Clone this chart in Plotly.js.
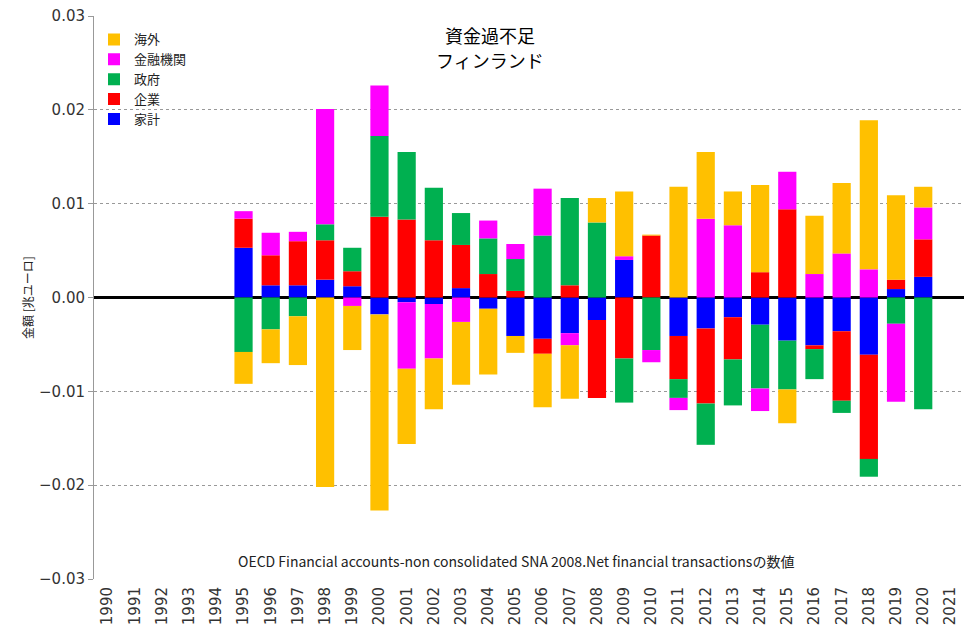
<!DOCTYPE html>
<html>
<head>
<meta charset="utf-8">
<script src="https://cdn.plot.ly/plotly-3.0.1.min.js"></script>
<style>html,body{margin:0;padding:0;background:#fff;}#chart{width:979px;height:639px;}</style>
</head>
<body>
<div id="chart"></div>
<script>
const years = ["1990","1991","1992","1993","1994","1995","1996","1997","1998","1999","2000","2001","2002","2003","2004","2005","2006","2007","2008","2009","2010","2011","2012","2013","2014","2015","2016","2017","2018","2019","2020","2021"];
// values 1990..2021 (null = no data)
const household = [null,null,null,null,null,0.0053,0.0013,0.0013,0.0019,0.0012,-0.0018,-0.0005,-0.0007,0.0010,-0.0012,-0.0041,-0.0044,-0.0038,-0.0024,0.0040,0,-0.0041,-0.0033,-0.0021,-0.0029,-0.0046,-0.0051,-0.0036,-0.0061,0.0009,0.0022,null];
const corporate = [null,null,null,null,null,0.0031,0.0032,0.0047,0.0042,0.0016,0.0086,0.0083,0.0061,0.0046,0.0025,0.0007,-0.0016,0.0013,-0.0083,-0.0065,0.0066,-0.0046,-0.0080,-0.0045,0.0027,0.0094,-0.0004,-0.0074,-0.0111,0.0010,0.0040,null];
const government = [null,null,null,null,null,-0.0058,-0.0034,-0.0020,0.0017,0.0025,0.0086,0.0072,0.0056,0.0034,0.0038,0.0034,0.0066,0.0093,0.0080,-0.0047,-0.0056,-0.0020,-0.0044,-0.0049,-0.0068,-0.0052,-0.0032,-0.0013,-0.0019,-0.0028,-0.0119,null];
const financial = [null,null,null,null,null,0.0008,0.0024,0.0010,0.0123,-0.0009,0.0054,-0.0071,-0.0058,-0.0026,0.0019,0.0016,0.0050,-0.0013,0,0.0004,-0.0013,-0.0013,0.0084,0.0077,-0.0024,0.0040,0.0025,0.0047,0.0030,-0.0083,0.0034,null];
const overseas = [null,null,null,null,null,-0.0034,-0.0036,-0.0052,-0.0202,-0.0047,-0.0209,-0.0080,-0.0054,-0.0067,-0.0070,-0.0018,-0.0057,-0.0057,0.0026,0.0069,0.0001,0.0118,0.0071,0.0036,0.0093,-0.0036,0.0062,0.0075,0.0159,0.0090,0.0022,null];

const seriesNames = ["家計","企業","政府","金融機関","海外"];
const seriesData = [household, corporate, government, financial, overseas];
const seriesColors = ["#0000FF","#FF0000","#00B050","#FF00FF","#FFC000"];
const titleLines = ["資金過不足","フィンランド"];
const sourceNote = "OECD Financial accounts-non consolidated SNA 2008.Net financial transactionsの数値";

const traces = seriesNames.map((n,i)=>({
  type:"bar", name:n, x:years, y:seriesData[i],
  marker:{color:seriesColors[i], line:{width:0}},
  hoverinfo:"x+y+name"
}));

const font = "Noto Sans CJK JP, Noto Sans, sans-serif";
const numFont = "DejaVu Sans, sans-serif";
const pTop = 16, pH = 563;
const layout = {
  width:979, height:639,
  margin:{l:94, r:15, t:pTop, b:639-pTop-pH},
  paper_bgcolor:"#fff", plot_bgcolor:"#fff",
  barmode:"relative", bargap:0.33,
  font:{family:font, color:"#222", size:12},
  xaxis:{type:"category", tickangle:-90, showgrid:false, showline:false, ticks:"",
         range:[-0.5,31.5], ticklabelstandoff:4,
         tickfont:{family:numFont, size:15, color:"#333"}, zeroline:false, fixedrange:true},
  // category-boundary tick marks drawn on the zero line
  xaxis2:{type:"linear", overlaying:"x", anchor:"free", position:0.5, side:"bottom",
          range:[-0.5,31.5], tickmode:"linear", tick0:-0.5, dtick:1,
          showticklabels:false, showgrid:false, showline:false, zeroline:false,
          ticks:"outside", ticklen:6, tickcolor:"#888", tickwidth:1},
  yaxis:{range:[-0.03,0.03], dtick:0.01, tickformat:".2f", showgrid:true,
         gridcolor:"#999", griddash:"dot", gridwidth:1,
         zeroline:true, zerolinecolor:"#000", zerolinewidth:3,
         showline:true, linecolor:"#999", linewidth:1, ticks:"outside", ticklen:5, tickcolor:"#999",
         tickfont:{family:numFont, size:15, color:"#333"},
         title:{text:"金額 [兆ユーロ]", font:{family:font, size:12, color:"#222"}, standoff:2}},
  legend:{x:0.0, y:0.985, xanchor:"left", yanchor:"top", traceorder:"reversed",
          bgcolor:"rgba(0,0,0,0)", font:{family:font, size:13, color:"#222"}, tracegroupgap:0},
  annotations:[
    {text:titleLines[0], xref:"paper", yref:"paper", x:(490-94)/870, y:1-(35-pTop)/pH, yanchor:"middle",
     showarrow:false, font:{family:font, size:18, color:"#000"}},
    {text:titleLines[1], xref:"paper", yref:"paper", x:(490-94)/870, y:1-(60-pTop)/pH, yanchor:"middle",
     showarrow:false, font:{family:font, size:18, color:"#000"}},
    {text:sourceNote, xref:"paper", yref:"y", x:(516-94)/870, y:-0.0281, showarrow:false,
     font:{family:font, size:14, color:"#222"}}]
};
Plotly.newPlot("chart", traces, layout, {displayModeBar:false, staticPlot:true});
</script>
</body>
</html>
